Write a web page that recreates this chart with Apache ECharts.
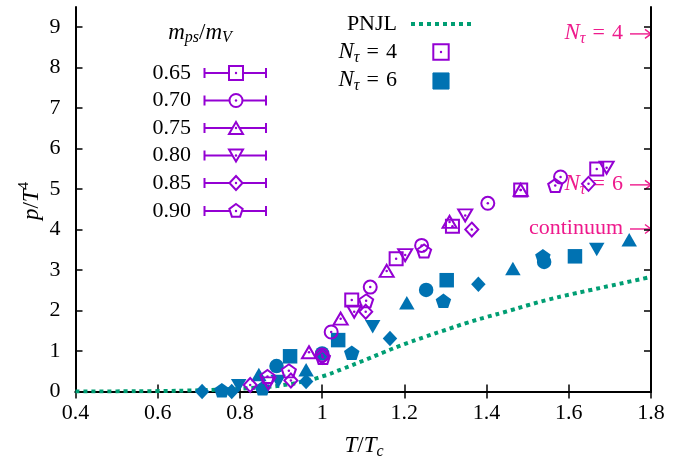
<!DOCTYPE html>
<html>
<head>
<meta charset="utf-8">
<script src="https://cdn.jsdelivr.net/npm/echarts@6/dist/echarts.min.js"></script>
<style>
  html, body { margin: 0; padding: 0; background: #fff; }
  #chart { width: 693px; height: 464px; }
</style>
</head>
<body>
<div id="chart"></div>
<script>
// Pressure p/T^4 versus T/Tc: lattice points for several m_ps/m_V, PNJL curve.

// N_tau = 4 (open symbols), one array per m_ps/m_V
const nt4_065 = [[1.072, 2.26], [1.18, 3.28], [1.317, 4.08], [1.483, 4.98], [1.668, 5.50]];
const nt4_070 = [[1.0, 0.90], [1.022, 1.47], [1.117, 2.58], [1.242, 3.61], [1.403, 4.65], [1.58, 5.30]];
const nt4_075 = [[0.968, 0.97], [1.045, 1.80], [1.157, 2.98], [1.31, 4.19], [1.483, 4.98]];
const nt4_080 = [[0.869, 0.20], [1.078, 1.97], [1.202, 3.37], [1.348, 4.35], [1.692, 5.53]];
const nt4_085 = [[0.825, 0.16], [0.924, 0.27], [1.0, 0.86], [1.106, 1.97], [1.364, 4.0], [1.648, 5.13]];
const nt4_090 = [[0.867, 0.37], [0.919, 0.51], [1.002, 0.84], [1.107, 2.24], [1.248, 3.47], [1.567, 5.09]];

// N_tau = 6 (filled symbols)
const nt6_065 = [[0.922, 0.87], [1.039, 1.27], [1.303, 2.75], [1.615, 3.34]];
const nt6_070 = [[0.889, 0.63], [1.0, 0.94], [1.253, 2.51], [1.54, 3.20]];
const nt6_075 = [[0.846, 0.42], [0.961, 0.54], [1.206, 2.19], [1.464, 3.04], [1.747, 3.75]];
const nt6_080 = [[0.797, 0.14], [0.893, 0.25], [1.123, 1.60], [1.668, 3.51]];
const nt6_085 = [[0.708, 0.0], [0.78, 0.0], [0.961, 0.25], [1.165, 1.31], [1.38, 2.65]];
const nt6_090 = [[0.756, 0.03], [0.855, 0.08], [1.072, 0.96], [1.295, 2.24], [1.537, 3.34]];

// PNJL model curve
const pnjlT = [0.4, 0.5, 0.6, 0.7, 0.8, 0.85, 0.9, 0.95, 1.0, 1.05, 1.1, 1.15, 1.2, 1.25, 1.3, 1.35, 1.4, 1.45, 1.5, 1.55, 1.6, 1.65, 1.7, 1.75, 1.8];
const pnjlP = [0.0, 0.003, 0.01, 0.03, 0.07, 0.10, 0.15, 0.24, 0.37, 0.56, 0.76, 0.97, 1.17, 1.35, 1.52, 1.69, 1.84, 1.98, 2.13, 2.27, 2.39, 2.50, 2.61, 2.72, 2.83];

// Stefan-Boltzmann limits marked on the right edge
const sbLimits = [8.86, 5.13, 4.04];

// Tick labels
const yTicks = [0, 1, 2, 3, 4, 5, 6, 7, 8, 9];
const massRatios = ['0.65', '0.70', '0.75', '0.80', '0.85', '0.90'];

const PURPLE = '#9400d3';
const BLUE = '#0072b2';
const GREEN = '#009e73';
const PINK = '#ee1a8c';
const FAMILY = '"Liberation Serif", "DejaVu Serif", serif';
const FS = 22;

const PENT = 'path://M0,-1 L0.951,-0.309 L0.588,0.809 L-0.588,0.809 L-0.951,-0.309 Z';
const TDOWN = 'path://M0,0 L2,0 L1,1.732 Z';
const shapes = [
  { sym: 'rect', size: 13 },
  { sym: 'circle', size: 13 },
  { sym: 'triangle', size: [14, 12] },
  { sym: TDOWN, size: [14, 12] },
  { sym: 'diamond', size: [13, 14] },
  { sym: PENT, size: [14, 13] }
];
// filled symbols are drawn slightly larger
function grow(s) { return Array.isArray(s) ? [s[0] + 1.5, s[1] + 1.5] : s + 1.5; }

const nt4 = [nt4_065, nt4_070, nt4_075, nt4_080, nt4_085, nt4_090];
const nt6 = [nt6_065, nt6_070, nt6_075, nt6_080, nt6_085, nt6_090];

const series = [];
series.push({
  type: 'line', data: pnjlT.map((t, i) => [t, pnjlP[i]]), showSymbol: false, smooth: true,
  lineStyle: { color: GREEN, width: 4, type: [4, 4], cap: 'butt' }, z: 1, silent: true
});
nt6.forEach((d, i) => series.push({
  type: 'scatter', data: d, symbol: shapes[i].sym, symbolSize: grow(shapes[i].size),
  itemStyle: { color: BLUE, opacity: 1 }, z: 2, silent: true
}));
nt4.forEach((d, i) => {
  series.push({
    type: 'scatter', data: d, symbol: shapes[i].sym, symbolSize: shapes[i].size,
    itemStyle: { color: 'rgba(255,255,255,0)', borderColor: PURPLE, borderWidth: 2, opacity: 1 }, z: 3, silent: true
  });
  series.push({
    type: 'scatter', data: d, symbol: 'circle', symbolSize: 2.5,
    itemStyle: { color: PURPLE, opacity: 1 }, z: 4, silent: true
  });
});

// measuring helper for laying out mixed italic / subscript text (and drawn arrows)
const ctx = document.createElement('canvas').getContext('2d');
function fontOf(p) { return (p.it ? 'italic ' : '') + (p.size || FS) + 'px ' + (p.fam || FAMILY); }
function mathText(parts, x, y, align, color, rotation) {
  let cx = 0;
  const kids = [];
  parts.forEach(p => {
    if (p.arrow) {
      const w = p.arrow;
      kids.push({ type: 'line', shape: { x1: cx, y1: 1, x2: cx + w, y2: 1 }, style: { stroke: color, lineWidth: 1.4 } });
      kids.push({ type: 'polyline', shape: { points: [[cx + w - 6, -3.5], [cx + w, 1], [cx + w - 6, 5.5]] },
        style: { stroke: color, lineWidth: 1.4, fill: null } });
      cx += w;
      return;
    }
    const font = fontOf(p);
    ctx.font = font;
    const w = ctx.measureText(p.t).width;
    kids.push({ type: 'text', x: cx + (p.dx || 0), y: p.dy || 0,
      style: { text: p.t, font: font, fill: color, textAlign: 'left', textVerticalAlign: 'middle' } });
    cx += w + (p.dx || 0) + (p.gap || 0);
  });
  const shift = align === 'right' ? -cx : align === 'center' ? -cx / 2 : 0;
  return { type: 'group', x: x, y: y, rotation: rotation || 0,
    children: [{ type: 'group', x: shift, y: 0, children: kids }] };
}

// key marker shapes centred on (0,0)
function keyMarker(i, x, y, filled, scale) {
  const st = filled ? { fill: BLUE, stroke: BLUE, lineWidth: 1 }
                    : { fill: '#fff', stroke: PURPLE, lineWidth: 2 };
  let el;
  const s = 7 * (scale || 1);
  if (i === 0) el = { type: 'rect', shape: { x: -s, y: -s, width: 2 * s, height: 2 * s } };
  else if (i === 1) el = { type: 'circle', shape: { cx: 0, cy: 0, r: 6.5 } };
  else if (i === 2) el = { type: 'polygon', shape: { points: [[0, -6], [7, 6], [-7, 6]] } };
  else if (i === 3) el = { type: 'polygon', shape: { points: [[-7, -6], [7, -6], [0, 6]] } };
  else if (i === 4) el = { type: 'polygon', shape: { points: [[0, -7], [6.5, 0], [0, 7], [-6.5, 0]] } };
  else el = { type: 'polygon', shape: { points: [[0, -7], [6.66, -2.16], [4.12, 5.66], [-4.12, 5.66], [-6.66, -2.16]] } };
  el.style = st;
  const kids = [el];
  if (!filled) kids.push({ type: 'circle', shape: { cx: 0, cy: 0, r: 1.2 }, style: { fill: PURPLE } });
  return { type: 'group', x: x, y: y, children: kids };
}

const graphic = [];
// axis titles
graphic.push(mathText([{ t: 'T', it: true, size: 23 }, { t: '/', size: 23 }, { t: 'T', it: true, size: 23 }, { t: 'c', it: true, size: 16, dy: 6 }],
  364, 446, 'center', '#000'));
graphic.push(mathText([{ t: 'p', it: true, size: 23 }, { t: '/', size: 23 }, { t: 'T', it: true, size: 23 }, { t: '4', size: 15, dy: -8 }],
  32, 201, 'center', '#000', Math.PI / 2));

// key: m_ps / m_V with error-bar style samples
graphic.push(mathText([{ t: 'm', it: true, size: 23 }, { t: 'ps', it: true, size: 16, dy: 5 }, { t: '/', size: 23 },
  { t: 'm', it: true, size: 23 }, { t: 'V', it: true, size: 16, dy: 5 }], 200, 33, 'center', '#000'));
const rowY = [73, 100.5, 128, 155.5, 183, 211];
massRatios.forEach((r, i) => {
  const y = rowY[i];
  graphic.push({ type: 'text', x: 191, y: y, style: { text: r, font: FS + 'px ' + FAMILY, fill: '#000', textAlign: 'right', textVerticalAlign: 'middle' } });
  graphic.push({ type: 'line', shape: { x1: 204.5, y1: y, x2: 266, y2: y }, style: { stroke: PURPLE, lineWidth: 2 } });
  graphic.push({ type: 'line', shape: { x1: 204.5, y1: y - 5, x2: 204.5, y2: y + 5 }, style: { stroke: PURPLE, lineWidth: 2 } });
  graphic.push({ type: 'line', shape: { x1: 266, y1: y - 5, x2: 266, y2: y + 5 }, style: { stroke: PURPLE, lineWidth: 2 } });
  graphic.push(keyMarker(i, 236, y, false));
});

// key: PNJL, N_tau
graphic.push({ type: 'text', x: 397, y: 24, style: { text: 'PNJL', font: FS + 'px ' + FAMILY, fill: '#000', textAlign: 'right', textVerticalAlign: 'middle' } });
graphic.push({ type: 'line', shape: { x1: 411, y1: 24, x2: 471, y2: 24 }, style: { stroke: GREEN, lineWidth: 4, lineDash: [4, 4] } });
graphic.push(mathText([{ t: 'N', it: true, size: 23 }, { t: 'τ', it: true, size: 16, dy: 6, gap: 7 }, { t: '=', gap: 7 }, { t: '4' }], 397, 52, 'right', '#000'));
graphic.push(mathText([{ t: 'N', it: true, size: 23 }, { t: 'τ', it: true, size: 16, dy: 6, gap: 7 }, { t: '=', gap: 7 }, { t: '6' }], 397, 80, 'right', '#000'));
graphic.push(keyMarker(0, 441, 52, false, 1.1));
graphic.push(keyMarker(0, 441, 81, true, 1.15));

// Stefan-Boltzmann labels
const ARROW = { arrow: 21 };
const sbText = [
  [{ t: 'N', it: true, size: 23 }, { t: 'τ', it: true, size: 16, dy: 6, gap: 7 }, { t: '=', gap: 7 }, { t: '4', gap: 7 }, ARROW],
  [{ t: 'N', it: true, size: 23 }, { t: 'τ', it: true, size: 16, dy: 6, gap: 7 }, { t: '=', gap: 7 }, { t: '6', gap: 7 }, ARROW],
  [{ t: 'continuum', gap: 7 }, ARROW]
];

const chart = echarts.init(document.getElementById('chart'), null, { renderer: 'canvas' });

const axisLineStyle = { show: true, lineStyle: { color: '#000', width: 2 } };
const tick = { show: true, inside: true, length: 7, lineStyle: { color: '#000', width: 1.5 } };

const option = {
  animation: false,
  backgroundColor: '#fff',
  grid: { left: 75.5, right: 42, top: 7, bottom: 72.5 },
  xAxis: [
    { type: 'value', position: 'bottom', min: 0.4, max: 1.8, interval: 0.2,
      axisLine: axisLineStyle, axisTick: tick, splitLine: { show: false },
      axisLabel: { margin: 11, color: '#000', fontFamily: FAMILY, fontSize: FS,
        formatter: v => String(Math.round(v * 10) / 10) } },
    { type: 'value', position: 'top', min: 0.4, max: 1.8, interval: 0.2,
      axisLine: axisLineStyle, axisTick: tick, splitLine: { show: false }, axisLabel: { show: false } }
  ],
  yAxis: [
    { type: 'value', position: 'left', min: 0, max: 9.5, interval: 1,
      axisLine: axisLineStyle, axisTick: Object.assign({ customValues: yTicks }, tick), splitLine: { show: false },
      axisLabel: { customValues: yTicks, margin: 15, color: '#000', fontFamily: FAMILY, fontSize: FS } },
    { type: 'value', position: 'right', min: 0, max: 9.5, interval: 1,
      axisLine: axisLineStyle, axisTick: Object.assign({ customValues: yTicks }, tick), splitLine: { show: false },
      axisLabel: { show: false } }
  ],
  series: series,
  graphic: graphic
};
chart.setOption(option);

// place SB labels at the right edge using the y scale
const sbGraphics = sbLimits.map((v, i) => {
  const p = chart.convertToPixel({ xAxisIndex: 0, yAxisIndex: 0 }, [1.8, v]);
  return mathText(sbText[i], p[0], p[1], 'right', PINK);
});
chart.setOption({ graphic: graphic.concat(sbGraphics) });
</script>
</body>
</html>
